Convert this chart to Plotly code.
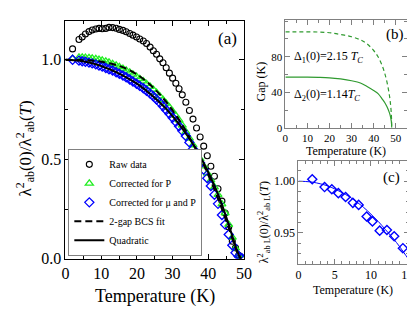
import plotly.graph_objects as go

# ---- panel (a): superfluid density vs temperature ----
temp_a = [2.0, 3.8, 4.7, 5.6, 6.6, 7.5, 8.5, 9.4, 10.3, 11.3, 12.2, 13.2, 14.2, 15.1, 16.1,
          17.0, 18.0, 18.9, 19.9, 20.8, 21.8, 22.7, 23.7, 24.6, 25.5, 26.4, 27.3, 28.2, 29.1,
          30.0, 30.9, 31.8, 32.7, 33.7, 34.7, 35.7, 36.7, 37.7, 38.7, 39.7, 40.7, 41.7, 42.7,
          43.8, 44.7, 45.7, 46.7, 47.6, 48.5, 49.4]
raw_data = [1.055, 1.102, 1.115, 1.130, 1.142, 1.150, 1.155, 1.158, 1.156, 1.158, 1.163, 1.162,
            1.159, 1.153, 1.148, 1.141, 1.132, 1.124, 1.115, 1.105, 1.095, 1.082, 1.064, 1.046,
            1.028, 1.005, 0.985, 0.960, 0.933, 0.908, 0.882, 0.855, 0.824, 0.787, 0.745, 0.702,
            0.657, 0.612, 0.566, 0.518, 0.465, 0.415, 0.352, 0.290, 0.230, 0.160, 0.088, 0.055,
            0.018, 0.004]
corr_p = [1.006, 1.012, 1.012, 1.011, 1.010, 1.008, 1.005, 1.001, 0.997, 0.992, 0.987, 0.980,
          0.972, 0.965, 0.956, 0.947, 0.937, 0.927, 0.916, 0.905, 0.893, 0.880, 0.866, 0.851,
          0.835, 0.818, 0.800, 0.781, 0.762, 0.741, 0.720, 0.697, 0.671, 0.638, 0.605, 0.572,
          0.537, 0.502, 0.466, 0.430, 0.395, 0.360, 0.322, 0.275, 0.230, 0.172, 0.108, 0.054,
          0.018, 0.004]
corr_mu_p = [1.000, 0.996, 0.993, 0.990, 0.986, 0.982, 0.977, 0.971, 0.966, 0.959, 0.953, 0.946,
             0.938, 0.930, 0.921, 0.912, 0.901, 0.891, 0.880, 0.869, 0.857, 0.845, 0.831, 0.817,
             0.801, 0.785, 0.767, 0.748, 0.729, 0.709, 0.688, 0.666, 0.643, 0.617, 0.585, 0.552,
             0.518, 0.482, 0.448, 0.405, 0.366, 0.322, 0.276, 0.220, 0.172, 0.122, 0.068, 0.030,
             0.012, 0.003]
bcs_temp = [0, 4, 8, 12, 16, 20, 24, 28, 32, 36, 39, 42, 44, 46, 47.5, 48.5, 49]
bcs_fit = [1.0, 0.999, 0.995, 0.984, 0.963, 0.927, 0.870, 0.793, 0.693, 0.568, 0.46, 0.335,
           0.24, 0.14, 0.06, 0.015, 0.0]
quad_temp = [0, 4, 8, 12, 16, 20, 24, 28, 32, 36, 39, 42, 44, 46, 47.5, 48.5, 49.2]
quad_fit = [1.0, 0.995, 0.98, 0.955, 0.922, 0.88, 0.825, 0.757, 0.672, 0.568, 0.47, 0.355,
            0.262, 0.155, 0.068, 0.02, 0.0]

# ---- panel (b): gaps ----
gap_temp = [0, 5, 10, 15, 20, 25, 30, 34, 37, 40, 42, 44, 45, 46, 47, 47.5, 48, 48.2]
gap1 = [108, 108, 108, 107.8, 107, 105, 102.5, 99, 94.5, 87, 80, 69, 61.5, 52, 39, 30, 16, 0]
gap2 = [57, 57, 57, 56.8, 56.3, 55, 53, 50.5, 46.5, 42, 38.5, 32, 28.5, 24, 18, 14, 7.5, 0]
gap_ticks = [0, 40, 80]

# ---- panel (c): low temperature part ----
temp_c = [1.9, 3.6, 4.6, 5.5, 6.5, 7.5, 8.3, 9.4, 10.2, 11.2, 12.2, 13.2, 14.4]
rho_c = [1.0019, 0.9943, 0.9922, 0.9884, 0.9846, 0.979, 0.977, 0.9658, 0.961, 0.952, 0.9527,
         0.9466, 0.935]
fit_c_temp = [0, 1, 2, 3, 4, 5, 6, 7, 8, 9, 10, 11, 12, 13, 14, 15, 15.2]
fit_c = [1.0, 0.9997, 0.999, 0.9975, 0.9955, 0.9925, 0.989, 0.985, 0.98, 0.9745, 0.968, 0.961,
         0.953, 0.945, 0.936, 0.926, 0.924]

W, H = 415, 321
FONT = "Times New Roman, Liberation Serif, DejaVu Serif, serif"


def px_x(a, b):
    return [a / W, b / W]


def px_y(top, bottom):
    return [1 - bottom / H, 1 - top / H]


fig = go.Figure()

fig.add_trace(go.Scatter(x=temp_a, y=raw_data, mode="markers", name="Raw data",
                         marker=dict(symbol="circle-open", size=6, color="black",
                                     line=dict(width=1.1))))
fig.add_trace(go.Scatter(x=temp_a, y=corr_p, mode="markers", name="Corrected for P",
                         marker=dict(symbol="triangle-up-open", size=7, color="#22ee22",
                                     line=dict(width=1.3))))
fig.add_trace(go.Scatter(x=temp_a, y=corr_mu_p, mode="markers", name="Corrected for μ and P",
                         marker=dict(symbol="diamond-open", size=7, color="#0000ff",
                                     line=dict(width=1.3))))
fig.add_trace(go.Scatter(x=bcs_temp, y=bcs_fit, mode="lines", name="2-gap BCS fit",
                         line=dict(color="black", width=2, dash="7px,4px", shape="spline")))
fig.add_trace(go.Scatter(x=quad_temp, y=quad_fit, mode="lines", name="Quadratic",
                         line=dict(color="black", width=2, shape="spline")))

fig.add_trace(go.Scatter(x=gap_temp, y=gap1, mode="lines", xaxis="x2", yaxis="y2",
                         showlegend=False,
                         line=dict(color="#2f9a2f", width=1.2, dash="4px,3px", shape="spline")))
fig.add_trace(go.Scatter(x=gap_temp, y=gap2, mode="lines", xaxis="x2", yaxis="y2",
                         showlegend=False,
                         line=dict(color="#2f9a2f", width=1.2, shape="spline")))

fig.add_trace(go.Scatter(x=fit_c_temp, y=fit_c, mode="lines", xaxis="x3", yaxis="y3",
                         showlegend=False, line=dict(color="#0000ff", width=1, shape="spline")))
fig.add_trace(go.Scatter(x=temp_c, y=rho_c, mode="markers", xaxis="x3", yaxis="y3",
                         showlegend=False,
                         marker=dict(symbol="diamond-open", size=7, color="#0000ff",
                                     line=dict(width=1.4))))


def axis(domain, rng, dtick, minor, size, color, fmt=None, anchor=None):
    d = dict(domain=domain, range=rng, dtick=dtick, tick0=0, showline=True, mirror="ticks",
             linecolor=color, linewidth=1, ticks="inside", ticklen=5, tickcolor=color,
             minor=dict(dtick=minor, ticks="inside", ticklen=3, tickcolor=color),
             showgrid=False, zeroline=False, tickfont=dict(family=FONT, size=size, color="black"),
             anchor=anchor)
    if fmt:
        d["tickformat"] = fmt
    return d


fig.update_layout(
    width=W, height=H, autosize=False,
    margin=dict(l=0, r=0, t=0, b=0),
    paper_bgcolor="white", plot_bgcolor="white",
    font=dict(family=FONT, color="black"),
    xaxis=axis(px_x(55, 239), [0, 50], 10, 5, 16, "black", anchor="y"),
    yaxis=axis(px_y(13, 258), [0, 1.197], 0.5, 0.25, 16, "black", ".1f", anchor="x"),
    xaxis2=axis(px_x(281.5, 406.5), [0, 55], 10, 5, 11, "#808080", anchor="y2"),
    yaxis2=axis(px_y(12, 123.3), [0, 121.7], 40, 20, 11, "#808080", anchor="x2"),
    xaxis3=axis(px_x(295, 408.5), [0, 15.2], 5, 1, 12, "#808080", anchor="y3"),
    yaxis3=axis(px_y(157, 263), [0.92, 1.02], 0.05, 0.01, 12, "#808080", ".2f", anchor="x3"),
    legend=dict(x=58 / W, y=1 - 255 / H, xanchor="left", yanchor="bottom",
                bgcolor="white", bordercolor="#808080", borderwidth=1,
                font=dict(family=FONT, size=10), itemwidth=30, tracegroupgap=0),
)
fig.update_yaxes(tickmode="array", tickvals=gap_ticks, selector=dict(anchor="x2"))

notes = [
    ("(a)", 222, 31, 17, 0, "center"),
    ("(b)", 394, 27, 15, 0, "center"),
    ("(c)", 391, 174, 15, 0, "center"),
    ("Δ<sub>1</sub>(0)=2.15 <i>T</i><sub><i>C</i></sub>", 288, 50, 12, 0, "left"),
    ("Δ<sub>2</sub>(0)=1.14<i>T</i><sub><i>C</i></sub>", 288, 90, 12, 0, "left"),
    ("Temperature (K)", 147, 297, 18, 0, "center"),
    ("λ<sup>2</sup><sub>ab</sub>(0)/λ<sup>2</sup><sub>ab</sub>(<i>T</i>)", 14, 145, 17, -90, "center"),
    ("Temperature (K)", 344, 147, 12, 0, "center"),
    ("Gap (K)", 256, 76, 12, -90, "center"),
    ("Temperature (K)", 351, 290, 12, 0, "center"),
    ("λ<sup>2</sup><sub>ab L</sub>(0)/λ<sup>2</sup><sub>ab L</sub>(<i>T</i>)", 260, 220, 12, -90, "center"),
]
for text, x, y, size, ang, xa in notes:
    fig.add_annotation(text=text, x=x / W, y=1 - y / H, xref="paper", yref="paper",
                       xanchor=xa, yanchor="middle", showarrow=False, textangle=ang,
                       font=dict(family=FONT, size=size, color="black"))

fig.write_html("out.html")
